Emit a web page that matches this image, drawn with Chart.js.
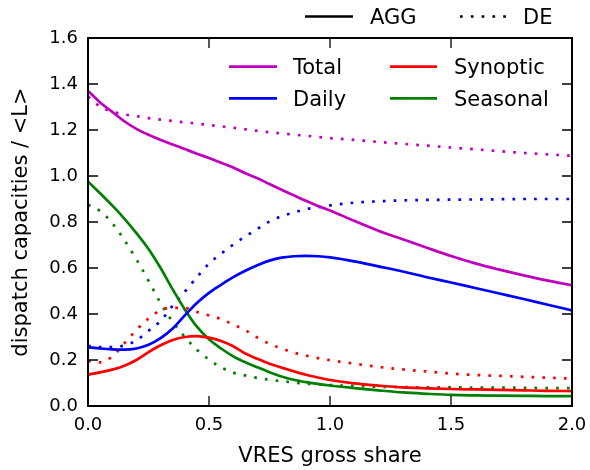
<!DOCTYPE html>
<html><head><meta charset="utf-8">
<script src="https://cdn.jsdelivr.net/npm/chart.js@4/dist/chart.umd.min.js"></script>
<style>html,body{margin:0;padding:0;background:#fff}#wrap{width:590px;height:470px;position:relative}</style>
</head><body><div id="wrap"><canvas id="c" width="590" height="470"></canvas></div>
<script>
// x: VRES gross share
const xShare = [0,0.05,0.1,0.15,0.2,0.25,0.3,0.35,0.4,0.45,0.5,0.55,0.6,0.65,0.7,0.75,0.8,0.85,0.9,0.95,1.0,1.1,1.2,1.3,1.4,1.5,1.6,1.7,1.8,1.9,2.0];
// AGG (solid)
const totalAGG = [1.37,1.32,1.279,1.238,1.205,1.179,1.157,1.137,1.117,1.097,1.078,1.058,1.037,1.012,0.99,0.965,0.94,0.916,0.892,0.87,0.85,0.805,0.762,0.725,0.688,0.652,0.62,0.593,0.568,0.545,0.525];
const dailyAGG = [0.256,0.25,0.246,0.245,0.25,0.266,0.295,0.337,0.394,0.448,0.492,0.527,0.56,0.588,0.612,0.632,0.645,0.651,0.653,0.651,0.646,0.629,0.607,0.585,0.56,0.537,0.513,0.489,0.465,0.44,0.416];
const synopticAGG = [0.137,0.146,0.158,0.175,0.2,0.234,0.264,0.287,0.3,0.304,0.297,0.283,0.26,0.228,0.205,0.184,0.167,0.151,0.136,0.124,0.113,0.098,0.089,0.081,0.077,0.074,0.072,0.07,0.068,0.066,0.065];
const seasonalAGG = [0.976,0.925,0.872,0.815,0.752,0.683,0.6,0.507,0.42,0.345,0.29,0.25,0.216,0.19,0.168,0.147,0.128,0.114,0.104,0.096,0.089,0.078,0.068,0.059,0.053,0.048,0.046,0.045,0.044,0.043,0.043];
// DE (dotted)
const totalDE = [1.345,1.302,1.28,1.268,1.26,1.252,1.245,1.239,1.233,1.228,1.222,1.216,1.21,1.203,1.196,1.19,1.185,1.18,1.175,1.17,1.165,1.157,1.148,1.14,1.132,1.124,1.116,1.108,1.1,1.094,1.088];
const dailyDE = [0.262,0.256,0.256,0.263,0.285,0.327,0.37,0.436,0.497,0.56,0.619,0.662,0.702,0.737,0.77,0.802,0.825,0.841,0.856,0.864,0.872,0.884,0.89,0.894,0.896,0.897,0.898,0.899,0.9,0.9,0.9];
const synopticDE = [0.195,0.19,0.215,0.272,0.331,0.38,0.416,0.427,0.426,0.409,0.394,0.378,0.354,0.33,0.297,0.27,0.25,0.232,0.219,0.208,0.199,0.184,0.17,0.159,0.15,0.141,0.135,0.131,0.127,0.123,0.119];
const seasonalDE = [0.875,0.848,0.795,0.722,0.638,0.545,0.447,0.366,0.3,0.245,0.202,0.168,0.145,0.133,0.122,0.114,0.108,0.102,0.097,0.094,0.091,0.087,0.084,0.082,0.081,0.081,0.08,0.08,0.079,0.078,0.078];

const componentNames = ['Total','Daily','Synoptic','Seasonal'];
const componentColors = ['#bf00bf','#0000ff','#ff0000','#008000'];
const styleNames = ['AGG','DE'];
const xTickValues = [0,0.5,1.0,1.5,2.0];
const yTickValues = [0,0.2,0.4,0.6,0.8,1.0,1.2,1.4,1.6];

const FONT = 'DejaVu Sans';
Chart.defaults.font.family = FONT;
Chart.defaults.color = '#000';

const LW = 2.7;
const DOT = [2.7, 8.1];
const aggSeries = [totalAGG, dailyAGG, synopticAGG, seasonalAGG];
const deSeries = [totalDE, dailyDE, synopticDE, seasonalDE];
const datasets = [];
function mk(label, arr, color, dotted) {
  return {
    label, data: xShare.map((x, i) => ({x, y: arr[i]})),
    borderColor: color, backgroundColor: color, borderWidth: LW,
    borderDash: dotted ? DOT : [], borderCapStyle: 'butt',
    pointRadius: 0, pointHoverRadius: 0, fill: false,
    cubicInterpolationMode: 'monotone'
  };
}
aggSeries.forEach((s, i) => datasets.push(mk(componentNames[i] + ' ' + styleNames[0], s, componentColors[i], false)));
deSeries.forEach((s, i) => datasets.push(mk(componentNames[i] + ' ' + styleNames[1], s, componentColors[i], true)));

const framePlugin = {
  id: 'frame',
  afterDatasetsDraw(chart) {
    const {ctx, chartArea: a, scales: {x, y}} = chart;
    ctx.save();
    ctx.strokeStyle = '#000';
    ctx.lineWidth = 1.3;
    const TL = 10;
    ctx.beginPath();
    xTickValues.forEach(v => {
      const px = x.getPixelForValue(v);
      ctx.moveTo(px, a.bottom); ctx.lineTo(px, a.bottom - TL);
      ctx.moveTo(px, a.top); ctx.lineTo(px, a.top + TL);
    });
    yTickValues.forEach(v => {
      const py = y.getPixelForValue(v);
      ctx.moveTo(a.left, py); ctx.lineTo(a.left + TL, py);
      ctx.moveTo(a.right, py); ctx.lineTo(a.right - TL, py);
    });
    ctx.stroke();
    ctx.lineWidth = 2;
    ctx.strokeRect(a.left, a.top, a.right - a.left, a.bottom - a.top);

    // inner legend (components)
    ctx.font = '21px "' + FONT + '"';
    ctx.fillStyle = '#000';
    ctx.textBaseline = 'alphabetic';
    ctx.textAlign = 'left';
    const cols = [{x0: 229, x1: 277, tx: 293}, {x0: 390, x1: 437, tx: 454}];
    const rows = [66.7, 98.3];
    const order = [[0,0],[1,0],[0,1],[1,1]]; // [row, col] for Total, Daily, Synoptic, Seasonal
    componentNames.forEach((name, i) => {
      const [r, c] = order[i];
      const yy = rows[r];
      ctx.strokeStyle = componentColors[i];
      ctx.lineWidth = LW;
      ctx.setLineDash([]);
      ctx.beginPath(); ctx.moveTo(cols[c].x0, yy); ctx.lineTo(cols[c].x1, yy); ctx.stroke();
      ctx.fillText(name, cols[c].tx, yy + 7.7);
    });

    // top legend (styles)
    const ty = 16.5;
    ctx.strokeStyle = '#000';
    ctx.lineWidth = LW;
    ctx.setLineDash([]);
    ctx.beginPath(); ctx.moveTo(305, ty); ctx.lineTo(353, ty); ctx.stroke();
    ctx.fillText(styleNames[0], 370, ty + 7.7);
    ctx.setLineDash(DOT);
    ctx.beginPath(); ctx.moveTo(460, ty); ctx.lineTo(508, ty); ctx.stroke();
    ctx.setLineDash([]);
    ctx.fillText(styleNames[1], 523, ty + 7.7);
    ctx.restore();
  }
};

new Chart(document.getElementById('c'), {
  type: 'line',
  data: {datasets},
  options: {
    responsive: false, animation: false,
    layout: {padding: {top: 38, right: 18, left: 0, bottom: 0}},
    plugins: {legend: {display: false}, tooltip: {enabled: false}},
    scales: {
      x: {
        type: 'linear', min: 0, max: 2.0,
        afterFit: s => { s.height = 64; s.paddingLeft = 0; s.paddingRight = 0; },
        grid: {display: false, drawTicks: false}, border: {display: false},
        ticks: {stepSize: 0.5, padding: 9, font: {size: 18}, color: '#000', callback: v => Number(v).toFixed(1), maxRotation: 0},
        title: {display: true, text: 'VRES gross share', font: {size: 21}, color: '#000', padding: {top: 0, bottom: 1}}
      },
      y: {
        type: 'linear', min: 0, max: 1.6,
        afterFit: s => { s.width = 88; s.paddingTop = 0; s.paddingBottom = 0; },
        grid: {display: false, drawTicks: false}, border: {display: false},
        ticks: {stepSize: 0.2, padding: 10, font: {size: 18}, color: '#000', callback: v => Number(v).toFixed(1)},
        title: {display: true, text: 'dispatch capacities / <L>', font: {size: 21}, color: '#000', padding: {top: 9, bottom: 0}}
      }
    }
  },
  plugins: [framePlugin]
});
</script>
</body></html>
